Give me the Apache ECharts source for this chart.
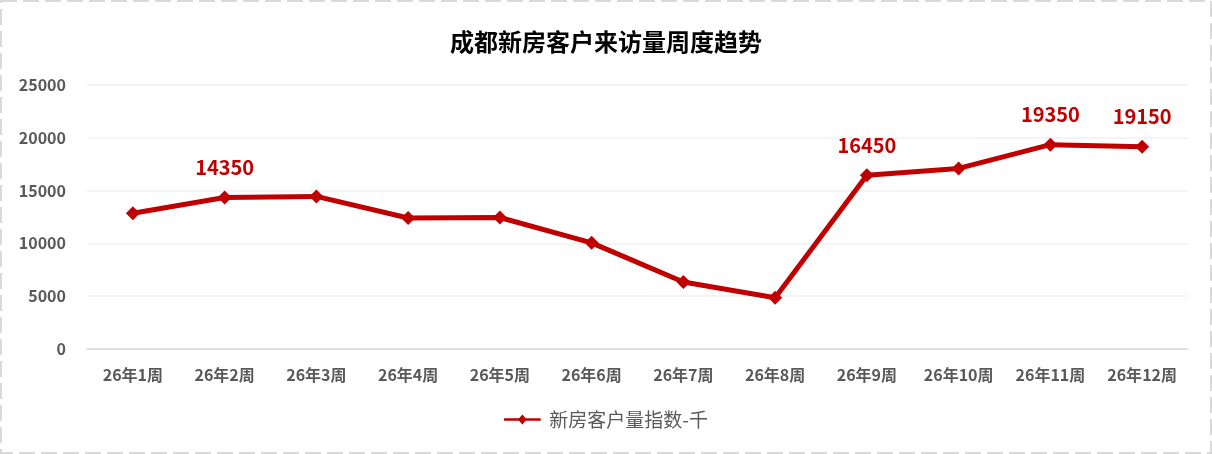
<!DOCTYPE html>
<html>
<head>
<meta charset="utf-8">
<script src="https://cdn.jsdelivr.net/npm/echarts@6/dist/echarts.min.js"></script>
<style>
html,body{margin:0;padding:0;background:#fff;}
#c{width:1212px;height:454px;}
</style>
</head>
<body>
<div id="c"></div>
<script>
const categories = ['26年1周','26年2周','26年3周','26年4周','26年5周','26年6周','26年7周','26年8周','26年9周','26年10周','26年11周','26年12周'];
const values = [12850, 14350, 14450, 12400, 12450, 10050, 6350, 4850, 16450, 17100, 19350, 19150];
const labeledIdx = [1, 8, 10, 11];
const yTicks = [0, 5000, 10000, 15000, 20000, 25000];
const seriesName = '新房客户量指数-千';
const titleText = '成都新房客户来访量周度趋势';

const font = '"Microsoft YaHei","Noto Sans CJK SC",sans-serif';
const red = '#C00000';

const chart = echarts.init(document.getElementById('c'), null, {renderer:'canvas'});
chart.setOption({
  animation:false,
  backgroundColor:'#fff',
  title:{
    text:titleText, left:'center', top:25,
    textStyle:{fontFamily:font, fontSize:24, fontWeight:'bold', color:'#000'}
  },
  legend:{
    data:[{name:seriesName, icon:'path://M0,4.5 L18,4.5 L22,0 L26,4.5 L44,4.5 L44,7.5 L26,7.5 L22,12 L18,7.5 L0,7.5 Z'}],
    bottom:20, left:'center',
    itemWidth:44, itemHeight:10, itemGap:4,
    textStyle:{fontFamily:font, fontSize:19, color:'#595959'}
  },
  grid:{left:87, right:24, top:85, bottom:105},
  xAxis:{
    type:'category', data:categories, boundaryGap:true,
    axisLine:{lineStyle:{color:'#d9d9d9', width:1.5}},
    axisTick:{show:false},
    axisLabel:{fontFamily:font, fontSize:16, fontWeight:'bold', color:'#595959', margin:18}
  },
  yAxis:{
    type:'value', min:yTicks[0], max:yTicks[yTicks.length-1], interval:yTicks[1]-yTicks[0],
    axisLine:{show:false}, axisTick:{show:false},
    splitLine:{lineStyle:{color:'#f0f0f0', width:1.5}},
    axisLabel:{fontFamily:font, fontSize:16, fontWeight:'bold', color:'#595959', margin:21,
      formatter:function(v){return String(v);}}
  },
  series:[{
    name:seriesName, type:'line',
    data:values.map((v,i)=>({
      value:v,
      label:{show:labeledIdx.indexOf(i)>=0}
    })),
    symbol:'diamond', symbolSize:14,
    lineStyle:{color:red, width:5},
    itemStyle:{color:red},
    label:{
      position:'top', distance:13,
      fontFamily:font, fontSize:20, fontWeight:'bold', color:red
    }
  }],
  graphic:[{
    type:'rect', silent:true, z:-1,
    shape:{x:1, y:1, width:1210, height:452},
    style:{fill:'none', stroke:'#d9d9d9', lineWidth:2, lineDash:[16,6]}
  }]
});
</script>
</body>
</html>
